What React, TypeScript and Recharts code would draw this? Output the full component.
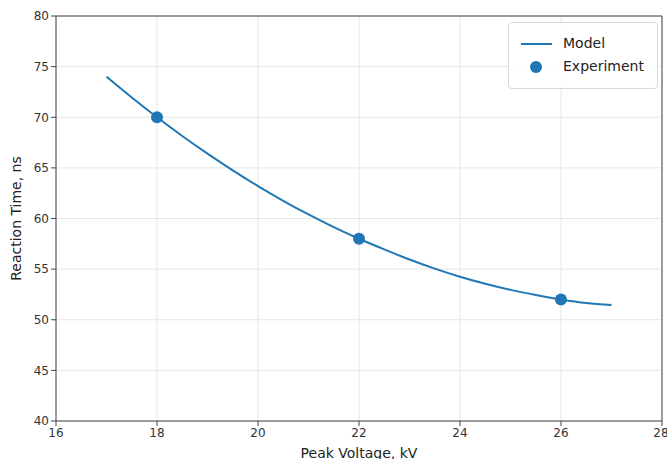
import { ComposedChart, Line, Scatter, XAxis, YAxis, CartesianGrid, ReferenceLine } from "recharts";

const modelVoltage = [17, 17.5, 18, 18.5, 19, 19.5, 20, 20.5, 21, 21.5, 22, 22.5, 23, 23.5, 24, 24.5, 25, 25.5, 26, 26.5, 27];
const modelTime = [74.0, 71.95, 70.0, 68.15, 66.4, 64.75, 63.2, 61.75, 60.4, 59.15, 58.0, 56.95, 55.95, 55.05, 54.25, 53.55, 52.95, 52.45, 52.0, 51.65, 51.45];

const expVoltage = [18, 22, 26];
const expTime = [70, 58, 52];

const xTicks = [16, 18, 20, 22, 24, 26, 28];
const yTicks = [40, 45, 50, 55, 60, 65, 70, 75, 80];

const modelData = modelVoltage.map((x, i) => ({ x, y: modelTime[i] }));
const expData = expVoltage.map((x, i) => ({ x, y: expTime[i] }));

const BLUE = "#1f77b4";
const FONT = "DejaVu Sans, sans-serif";

function LegendBox() {
  return (
    <div
      style={{
        position: "absolute",
        left: 508,
        top: 22,
        width: 150,
        height: 67,
        boxSizing: "border-box",
        border: "1px solid #d9d9d9",
        borderRadius: 4,
        background: "rgba(255,255,255,0.85)",
        padding: "9px 0 0 12px",
        fontFamily: FONT,
        fontSize: 14,
        color: "#222",
        lineHeight: "23px",
      }}
    >
      <div style={{ display: "flex", alignItems: "center" }}>
        <svg width={31} height={10} style={{ marginRight: 11 }}>
          <line x1={0} y1={5} x2={31} y2={5} stroke={BLUE} strokeWidth={2} />
        </svg>
        Model
      </div>
      <div style={{ display: "flex", alignItems: "center" }}>
        <svg width={31} height={14} style={{ marginRight: 11 }}>
          <circle cx={15} cy={7} r={6} fill={BLUE} />
        </svg>
        Experiment
      </div>
    </div>
  );
}

export default function App() {
  return (
    <div style={{ position: "absolute", left: 0, top: 0, width: 667, height: 459, background: "#fff", overflow: "hidden" }}>
      <ComposedChart width={667} height={459} margin={{ top: 16, right: 5, bottom: 0, left: 0 }}>
        <CartesianGrid stroke="#e6e6e6" />
        <XAxis
          type="number"
          dataKey="x"
          domain={[16, 28]}
          ticks={xTicks}
          allowDataOverflow
          height={38}
          stroke="#444"
          tickSize={5}
          tick={{ fill: "#333", fontSize: 12, fontFamily: FONT }}
          label={{ value: "Peak Voltage, kV", position: "insideBottom", offset: 1, fill: "#222", fontSize: 14, fontFamily: FONT }}
        />
        <YAxis
          type="number"
          dataKey="y"
          domain={[40, 80]}
          ticks={yTicks}
          width={56}
          stroke="#444"
          tickSize={5}
          tick={{ fill: "#333", fontSize: 12, fontFamily: FONT }}
          label={{ value: "Reaction Time, ns", angle: -90, position: "insideLeft", offset: 16, textAnchor: "middle", fill: "#222", fontSize: 14, fontFamily: FONT }}
        />
        <ReferenceLine y={80} stroke="#444" />
        <ReferenceLine x={28} stroke="#444" />
        <Line data={modelData} dataKey="y" type="monotone" stroke={BLUE} strokeWidth={2} dot={false} isAnimationActive={false} name="Model" />
        <Scatter data={expData} dataKey="y" fill={BLUE} shape={(p: any) => <circle cx={p.cx} cy={p.cy} r={6} fill={BLUE} />} isAnimationActive={false} name="Experiment" />
      </ComposedChart>
      <LegendBox />
    </div>
  );
}
